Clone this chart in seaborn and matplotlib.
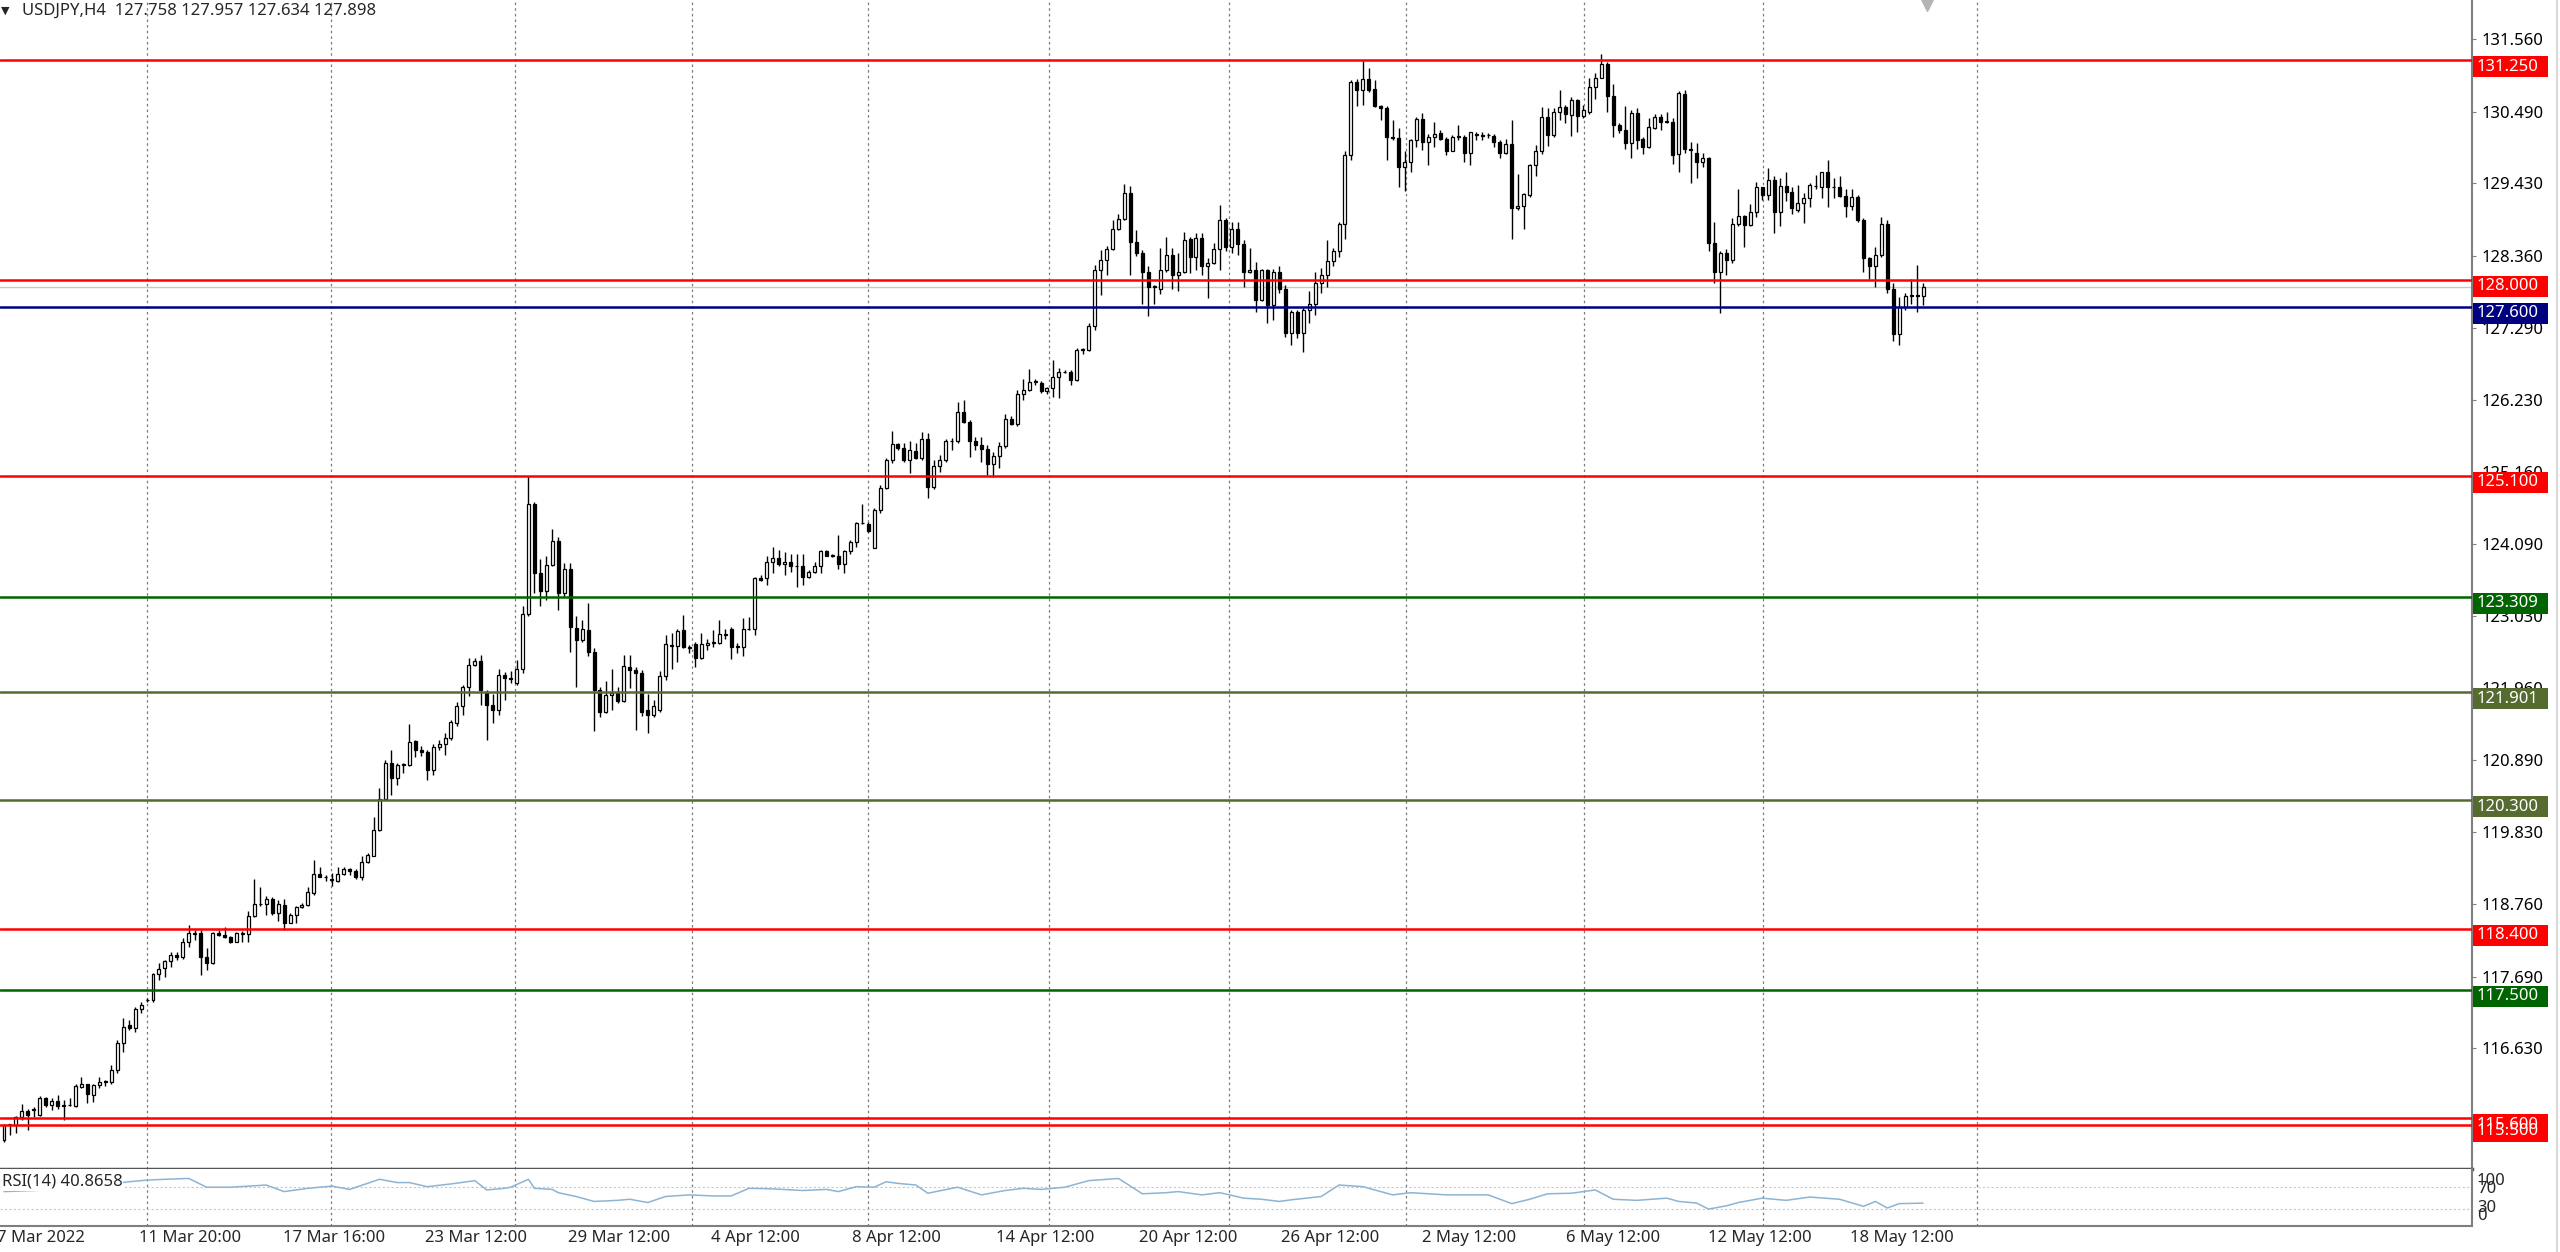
import matplotlib
matplotlib.use('Agg')
import matplotlib.pyplot as plt
import matplotlib.transforms as mtransforms
from matplotlib.patches import Rectangle
from matplotlib.lines import Line2D
import numpy as np
import pandas as pd
import seaborn as sns

sns.set_style('white')
plt.rcParams['font.family'] = ['Noto Sans', 'DejaVu Sans']
plt.rcParams['font.size'] = 12

# USDJPY H4 bars (open, high, low, close), first bar 7 Mar 2022
bars_mar = [
    (115.28, 115.51, 115.25, 115.50), (115.51, 115.52, 115.35, 115.52), (115.50, 115.63, 115.38, 115.61),
    (115.61, 115.81, 115.57, 115.71), (115.71, 115.73, 115.42, 115.65), (115.72, 115.77, 115.62, 115.73),
    (115.65, 115.93, 115.63, 115.90), (115.89, 115.91, 115.77, 115.79), (115.79, 115.89, 115.72, 115.86),
    (115.86, 115.94, 115.74, 115.78), (115.78, 115.87, 115.57, 115.80), (115.80, 115.89, 115.78, 115.79),
    (115.78, 116.11, 115.77, 116.07), (116.06, 116.21, 116.04, 116.11), (116.10, 116.11, 115.82, 115.96),
    (115.94, 116.11, 115.84, 116.09), (116.09, 116.21, 116.04, 116.14), (116.14, 116.16, 116.07, 116.15),
    (116.14, 116.39, 116.11, 116.31), (116.31, 116.76, 116.26, 116.71), (116.71, 117.08, 116.58, 116.95),
    (116.97, 117.05, 116.90, 116.93), (116.93, 117.25, 116.88, 117.21), (117.21, 117.32, 117.16, 117.27),
    (117.34, 117.37, 117.32, 117.35), (117.34, 117.75, 117.32, 117.73), (117.73, 117.89, 117.64, 117.80),
    (117.82, 117.94, 117.69, 117.92), (117.92, 118.06, 117.84, 118.01), (118.02, 118.06, 117.94, 117.99),
    (117.98, 118.26, 117.96, 118.21), (118.21, 118.46, 118.13, 118.34), (118.34, 118.38, 118.24, 118.33),
    (118.34, 118.38, 117.72, 117.99), (117.99, 118.11, 117.79, 117.89), (117.89, 118.36, 117.88, 118.34),
    (118.34, 118.38, 118.29, 118.31), (118.31, 118.43, 118.26, 118.28), (118.28, 118.29, 118.19, 118.21),
    (118.21, 118.36, 118.20, 118.34), (118.33, 118.37, 118.21, 118.34), (118.32, 118.66, 118.21, 118.59),
    (118.59, 119.13, 118.58, 118.77), (118.77, 119.02, 118.74, 118.76), (118.76, 118.88, 118.61, 118.84),
    (118.84, 118.87, 118.60, 118.64), (118.64, 118.83, 118.51, 118.77), (118.75, 118.84, 118.38, 118.49),
    (118.49, 118.63, 118.48, 118.61), (118.61, 118.74, 118.48, 118.72), (118.73, 118.78, 118.71, 118.75),
    (118.75, 119.02, 118.74, 118.94), (118.93, 119.42, 118.90, 119.21), (119.21, 119.32, 119.16, 119.17),
    (119.17, 119.20, 119.10, 119.16), (119.12, 119.22, 119.03, 119.13), (119.10, 119.32, 119.09, 119.21),
    (119.21, 119.31, 119.19, 119.28), (119.28, 119.30, 119.20, 119.26), (119.26, 119.28, 119.13, 119.17),
    (119.17, 119.48, 119.12, 119.39), (119.39, 119.52, 119.37, 119.49), (119.48, 120.06, 119.47, 119.86),
    (119.86, 120.48, 119.85, 120.32), (120.32, 120.90, 120.31, 120.85), (120.85, 121.05, 120.38, 120.63),
    (120.63, 120.85, 120.53, 120.82), (120.83, 120.85, 120.71, 120.83), (120.83, 121.43, 120.81, 121.16),
    (121.18, 121.19, 120.94, 121.05), (121.05, 121.10, 120.95, 121.02), (121.01, 121.05, 120.60, 120.75),
    (120.75, 121.14, 120.68, 121.09), (121.09, 121.19, 121.05, 121.13), (121.13, 121.30, 120.97, 121.23),
    (121.23, 121.49, 121.19, 121.46), (121.45, 121.76, 121.40, 121.69), (121.69, 122.01, 121.56, 121.98),
    (121.98, 122.41, 121.84, 122.31), (122.31, 122.40, 122.29, 122.36), (122.36, 122.45, 121.71, 121.93),
    (121.91, 121.93, 121.19, 121.71), (121.71, 121.88, 121.44, 121.64), (121.64, 122.24, 121.56, 122.15),
    (122.15, 122.20, 121.79, 122.11), (122.11, 122.22, 122.03, 122.10), (122.04, 122.38, 122.01, 122.24),
    (122.24, 123.17, 122.18, 123.05), (123.05, 125.10, 123.03, 124.69), (124.69, 124.72, 123.37, 123.66),
    (123.66, 123.87, 123.17, 123.40), (123.40, 123.91, 123.26, 123.78), (123.78, 124.31, 123.76, 124.14),
    (124.14, 124.20, 123.12, 123.37), (123.37, 123.81, 123.31, 123.73), (123.73, 123.81, 122.50, 122.87),
    (122.85, 123.03, 121.98, 122.67), (122.67, 122.97, 122.65, 122.84), (122.82, 123.22, 122.43, 122.49),
    (122.49, 122.55, 121.32, 121.93), (121.93, 121.98, 121.54, 121.61), (121.61, 122.06, 121.59, 121.86),
    (121.86, 122.25, 121.64, 121.89), (121.89, 121.98, 121.74, 121.77), (121.77, 122.45, 121.76, 122.29),
    (122.28, 122.45, 121.96, 122.23), (122.23, 122.28, 121.34, 122.19), (122.19, 122.23, 121.55, 121.61),
]
bars_apr = [
    (121.63, 121.88, 121.29, 121.56), (121.56, 121.79, 121.54, 121.69), (121.64, 122.21, 121.61, 122.14),
    (122.14, 122.75, 122.08, 122.61), (122.59, 122.77, 122.25, 122.60), (122.59, 122.83, 122.34, 122.81),
    (122.82, 123.04, 122.55, 122.57), (122.57, 122.60, 122.48, 122.55), (122.61, 122.65, 122.28, 122.41),
    (122.41, 122.77, 122.39, 122.61), (122.60, 122.68, 122.53, 122.63), (122.63, 122.82, 122.57, 122.65),
    (122.63, 122.97, 122.61, 122.76), (122.75, 122.83, 122.68, 122.76), (122.83, 122.86, 122.39, 122.57),
    (122.57, 122.63, 122.48, 122.58), (122.57, 123.00, 122.44, 122.83), (122.83, 123.02, 122.82, 122.84),
    (122.84, 123.61, 122.75, 123.59), (123.59, 123.63, 123.55, 123.56), (123.59, 123.91, 123.49, 123.83),
    (123.83, 124.05, 123.66, 123.88), (123.88, 124.01, 123.76, 123.80), (123.80, 123.98, 123.64, 123.82),
    (123.82, 123.94, 123.68, 123.76), (123.77, 123.94, 123.46, 123.77), (123.77, 123.94, 123.49, 123.61),
    (123.61, 123.71, 123.59, 123.68), (123.68, 123.83, 123.66, 123.76), (123.76, 124.01, 123.67, 123.99),
    (123.99, 124.00, 123.91, 123.92), (123.92, 123.95, 123.90, 123.92), (123.91, 124.23, 123.72, 123.80),
    (123.80, 124.01, 123.67, 123.99), (123.99, 124.15, 123.95, 124.12), (124.12, 124.42, 124.05, 124.40),
    (124.40, 124.68, 124.39, 124.40), (124.39, 124.42, 124.27, 124.29), (124.04, 124.62, 124.03, 124.60),
    (124.60, 124.97, 124.55, 124.92), (124.92, 125.36, 124.90, 125.33), (125.33, 125.77, 125.29, 125.57),
    (125.57, 125.59, 125.48, 125.52), (125.51, 125.59, 125.31, 125.34), (125.34, 125.61, 125.14, 125.48),
    (125.47, 125.58, 125.35, 125.36), (125.36, 125.75, 125.33, 125.64), (125.64, 125.73, 124.77, 124.94),
    (124.94, 125.34, 124.90, 125.24), (125.24, 125.41, 125.16, 125.33), (125.33, 125.64, 125.31, 125.61),
    (125.61, 125.66, 125.48, 125.62), (125.61, 126.20, 125.59, 126.04), (126.04, 126.22, 125.88, 125.90),
    (125.90, 125.93, 125.38, 125.61), (125.61, 125.67, 125.49, 125.55), (125.55, 125.68, 125.30, 125.50),
    (125.50, 125.56, 125.11, 125.28), (125.28, 125.46, 125.09, 125.39), (125.39, 125.60, 125.21, 125.54),
    (125.54, 126.02, 125.51, 125.94), (125.94, 125.99, 125.86, 125.87), (125.87, 126.37, 125.84, 126.31),
    (126.31, 126.54, 126.22, 126.37), (126.37, 126.68, 126.35, 126.49), (126.49, 126.53, 126.45, 126.50),
    (126.48, 126.51, 126.33, 126.35), (126.35, 126.42, 126.31, 126.40), (126.40, 126.82, 126.27, 126.56),
    (126.56, 126.69, 126.25, 126.64), (126.64, 126.67, 126.62, 126.64), (126.63, 126.66, 126.45, 126.52),
    (126.52, 126.99, 126.50, 126.96), (126.96, 126.99, 126.91, 126.97), (126.96, 127.36, 126.95, 127.32),
    (127.32, 128.22, 127.26, 128.15), (128.15, 128.44, 127.78, 128.29), (128.29, 128.50, 128.07, 128.45),
    (128.45, 128.89, 128.44, 128.75), (128.75, 128.97, 128.74, 128.90), (128.90, 129.42, 128.89, 129.29),
    (129.29, 129.39, 128.07, 128.56), (128.56, 128.74, 128.35, 128.40), (128.40, 128.44, 127.65, 128.11),
    (128.11, 128.20, 127.46, 127.89), (127.90, 127.92, 127.65, 127.90), (127.86, 128.47, 127.79, 128.15),
    (128.15, 128.64, 128.12, 128.37), (128.37, 128.47, 127.87, 128.07), (128.07, 128.39, 127.83, 128.12),
    (128.12, 128.71, 128.10, 128.59), (128.60, 128.64, 128.10, 128.34), (128.34, 128.69, 128.15, 128.62),
    (128.62, 128.70, 128.07, 128.20), (128.20, 128.32, 127.73, 128.25), (128.25, 128.54, 128.24, 128.45),
    (128.45, 129.11, 128.15, 128.89), (128.89, 128.91, 128.42, 128.49), (128.49, 128.85, 128.39, 128.75),
    (128.75, 128.86, 128.37, 128.53), (128.53, 128.59, 127.90, 128.12), (128.12, 128.47, 128.10, 128.14),
    (128.14, 128.27, 127.53, 127.70), (127.70, 128.16, 127.68, 128.15), (128.15, 128.16, 127.36, 127.63),
    (127.63, 128.16, 127.41, 128.11), (128.11, 128.20, 127.80, 127.87), (127.87, 127.92, 127.16, 127.21),
]
bars_may = [
    (127.21, 127.56, 127.04, 127.53), (127.53, 127.55, 127.14, 127.21), (127.21, 127.60, 126.94, 127.55),
    (127.55, 127.83, 127.36, 127.65), (127.65, 128.12, 127.48, 127.96), (127.96, 128.17, 127.80, 128.07),
    (128.07, 128.59, 127.90, 128.28), (128.28, 128.47, 128.20, 128.43), (128.43, 128.85, 128.34, 128.83),
    (128.83, 129.90, 128.61, 129.85), (129.85, 130.96, 129.78, 130.93), (130.93, 130.97, 130.57, 130.81),
    (130.81, 131.24, 130.59, 130.97), (130.97, 131.13, 130.78, 130.81), (130.83, 130.96, 130.56, 130.57),
    (130.57, 130.58, 130.37, 130.54), (130.54, 130.57, 129.77, 130.11), (130.11, 130.37, 130.07, 130.10),
    (130.10, 130.24, 129.38, 129.67), (129.67, 129.91, 129.32, 129.75), (129.75, 130.09, 129.59, 130.07),
    (130.07, 130.41, 129.96, 130.38), (130.38, 130.47, 129.92, 130.04), (130.04, 130.16, 129.70, 130.12),
    (130.12, 130.34, 129.96, 130.16), (130.17, 130.22, 130.07, 130.09), (130.09, 130.12, 129.85, 129.91),
    (129.91, 130.14, 129.90, 130.12), (130.12, 130.29, 130.07, 130.13), (130.12, 130.14, 129.75, 129.88),
    (129.88, 130.19, 129.70, 130.18), (130.15, 130.19, 130.07, 130.16), (130.14, 130.18, 130.07, 130.13),
    (130.14, 130.17, 130.10, 130.15), (130.13, 130.16, 129.97, 130.04), (130.04, 130.07, 129.80, 129.87),
    (129.87, 130.09, 129.86, 130.01), (130.01, 130.37, 128.61, 129.06), (129.06, 129.57, 129.03, 129.09),
    (129.09, 129.29, 128.75, 129.27), (129.26, 129.72, 129.23, 129.70), (129.70, 130.00, 129.53, 129.90),
    (129.90, 130.55, 129.86, 130.41), (130.41, 130.54, 129.98, 130.14), (130.14, 130.54, 130.12, 130.49),
    (130.49, 130.81, 130.36, 130.56), (130.55, 130.59, 130.32, 130.45), (130.44, 130.71, 130.13, 130.66),
    (130.66, 130.67, 130.19, 130.42), (130.42, 130.59, 130.40, 130.52), (130.49, 130.98, 130.46, 130.85),
    (130.85, 131.06, 130.67, 130.99), (130.99, 131.34, 130.98, 131.20), (131.20, 131.23, 130.49, 130.72),
    (130.72, 130.89, 130.11, 130.29), (130.29, 130.32, 130.17, 130.22), (130.21, 130.57, 129.93, 130.03),
    (130.03, 130.51, 129.80, 130.47), (130.47, 130.54, 129.93, 130.07), (130.08, 130.12, 129.86, 129.97),
    (129.97, 130.40, 129.95, 130.26), (130.24, 130.46, 130.23, 130.41), (130.41, 130.46, 130.22, 130.34),
    (130.34, 130.49, 130.32, 130.35), (130.34, 130.39, 129.72, 129.85), (129.86, 130.79, 129.59, 130.76),
    (130.75, 130.81, 129.87, 129.93), (129.93, 130.04, 129.44, 129.92), (129.87, 130.02, 129.50, 129.75),
    (129.75, 129.87, 129.67, 129.80), (129.80, 129.82, 128.42, 128.54), (128.54, 128.85, 127.96, 128.11),
    (128.11, 128.43, 127.51, 128.40), (128.40, 128.45, 128.07, 128.30), (128.29, 128.92, 128.25, 128.83),
    (128.83, 129.35, 128.79, 128.94), (128.94, 128.96, 128.49, 128.81), (128.81, 129.12, 128.79, 129.01),
    (129.01, 129.45, 128.93, 129.37), (129.37, 129.38, 129.18, 129.25), (129.25, 129.66, 129.18, 129.48),
    (129.48, 129.53, 128.70, 129.01), (129.01, 129.50, 128.79, 129.39), (129.39, 129.60, 129.16, 129.30),
    (129.30, 129.38, 128.98, 129.06), (129.04, 129.40, 129.01, 129.14), (129.13, 129.28, 128.84, 129.21),
    (129.21, 129.43, 129.08, 129.40), (129.39, 129.55, 129.35, 129.39), (129.38, 129.60, 129.21, 129.59),
    (129.59, 129.77, 129.08, 129.37), (129.37, 129.50, 129.21, 129.37), (129.37, 129.54, 129.23, 129.24),
    (129.24, 129.35, 128.93, 129.09), (129.09, 129.35, 129.03, 129.22), (129.22, 129.26, 128.86, 128.89),
    (128.89, 128.91, 128.11, 128.33), (128.33, 128.34, 128.02, 128.21), (128.21, 128.49, 127.90, 128.37),
    (128.37, 128.93, 128.34, 128.83), (128.83, 128.88, 127.80, 127.86), (127.86, 127.95, 127.09, 127.20),
    (127.20, 127.75, 127.04, 127.60), (127.60, 127.80, 127.55, 127.76), (127.76, 128.02, 127.65, 127.78),
    (127.77, 128.22, 127.53, 127.76), (127.758, 127.957, 127.634, 127.898),
]

# RSI(14) (bar number, value)
rsi_bar = [0, 10, 21, 24, 27, 31, 34, 38, 41, 44, 47, 51, 55, 58, 63, 66, 68, 71, 75, 79,
           81, 84, 85, 88, 89, 92, 93, 96, 99, 103, 105, 108, 111, 115, 119, 122, 125, 129, 134, 138,
           140, 143, 146, 148, 150, 153, 155, 160, 164, 168, 171, 174, 178, 182, 187, 191, 195, 197, 201, 204,
           208, 211, 214, 216, 221, 224, 228, 233, 236, 242, 249, 253, 256, 259, 263, 267, 270, 274, 279, 281,
           284, 286, 289, 291, 295, 299, 303, 308, 312, 314, 316, 318, 322]
rsi_val = [62, 66, 80, 83, 84.5, 86, 70, 70, 72, 74, 62, 68, 72, 66, 84.5, 78.5, 78.5, 71, 76, 82,
           65, 68, 70, 84.5, 68, 66, 60, 53, 44, 46, 48, 42, 53, 56, 54, 54, 68, 67, 64, 66,
           62, 71, 70, 80, 77, 74, 59, 70, 56, 64, 68, 66, 70, 82, 86, 58, 60, 62, 56, 60,
           50, 48, 44, 47, 53, 74, 71, 56, 60, 56, 56, 40, 48, 58, 59, 65, 48, 46, 50, 44,
           41, 30, 36, 42, 50, 46, 52, 48, 35, 44, 32, 40, 40.87]

price_ticks = [131.56, 130.49, 129.43, 128.36, 127.29, 126.23, 125.16, 124.09,
               123.03, 121.96, 120.89, 119.83, 118.76, 117.69, 116.63]

level_price = [131.25, 128.0, 127.6, 125.1, 123.309, 121.901, 120.3, 118.4, 117.5, 115.6, 115.5]
level_color = ['#FF0000', '#FF0000', '#000080', '#FF0000', '#006400', '#556B2F',
               '#556B2F', '#FF0000', '#006400', '#FF0000', '#FF0000']
bid = 127.898

date_labels = ['7 Mar 2022', '11 Mar 20:00', '17 Mar 16:00', '23 Mar 12:00', '29 Mar 12:00',
               '4 Apr 12:00', '8 Apr 12:00', '14 Apr 12:00', '20 Apr 12:00', '26 Apr 12:00',
               '2 May 12:00', '6 May 12:00', '12 May 12:00', '18 May 12:00']
date_pos = [-1.1, 22.7, 46.8, 70.6, 94.6, 118.6, 142.3, 166.4, 190.4, 214.3, 238.0, 262.1, 285.9, 309.8]
grid_pos = [24, 54.8, 85.8, 115.5, 145, 175.4, 205.6, 235.3, 265.1, 295.1, 331]

df = pd.DataFrame(bars_mar + bars_apr + bars_may, columns=['open', 'high', 'low', 'close'])
df['bar'] = np.arange(len(df))
df['bull'] = df['close'] >= df['open']

W, H = 2560, 1252
fig = plt.figure(figsize=(W / 100, H / 100), dpi=100)
ax = fig.add_axes([0, 1 - 1169 / H, 2472 / W, 1169 / H])
ax2 = fig.add_axes([0, 1 - 1226 / H, 2472 / W, 57 / H], sharex=ax)

# dotted vertical grid through both windows
for g in grid_pos:
    ax.axvline(g, color='#7A7A7A', lw=0.9, ls=(0, (2, 2.5)), zorder=1)
    ax2.axvline(g, color='#7A7A7A', lw=0.9, ls=(0, (2, 2.5)), zorder=1)

# candles
ax.vlines(df['bar'], df['low'], df['high'], color='black', lw=1.0, zorder=3)
body_lo = df[['open', 'close']].min(axis=1)
body_h = (df['close'] - df['open']).abs().clip(lower=0.003)
ax.bar(df['bar'], body_h, bottom=body_lo, width=0.5,
       color=['white' if b else 'black' for b in df['bull']],
       edgecolor='black', linewidth=0.9, zorder=4)

# horizontal levels with price boxes
ax.axhline(bid, color='#C8C8C8', lw=1, zorder=2)
blend = mtransforms.blended_transform_factory(ax.transAxes, ax.transData)
for lv, col in zip(level_price, level_color):
    ax.axhline(lv, color=col, lw=1.8, zorder=5)
for lv, col in zip(level_price, level_color):
    ax.add_patch(Rectangle((1.0004, lv - 0.2515), 0.0304, 0.3107, transform=blend,
                           facecolor=col, edgecolor='none', clip_on=False, zorder=10))
    ax.text(1.0020, lv - 0.096, f'{lv:.3f}', transform=blend, color='white', fontsize=12,
            ha='left', va='center', clip_on=False, zorder=11)

ax.set_xlim(-0.67, 414.1)
ax.set_ylim(114.847, 132.14)
ax.yaxis.tick_right()
ax.set_yticks(price_ticks)
ax.set_yticklabels([f'{t:.3f}' for t in price_ticks])
ax.tick_params(axis='y', length=3, width=0.8, color='#7F7F7F', pad=4, labelsize=12, labelcolor='black')
ax.tick_params(axis='x', bottom=False, labelbottom=False)
for s in ['top', 'left']:
    ax.spines[s].set_visible(False)
ax.spines['right'].set_color('#7F7F7F')
ax.spines['right'].set_linewidth(1.5)
ax.spines['bottom'].set_color('#555555')
ax.spines['bottom'].set_linewidth(2.5)

# RSI window
sns.lineplot(x=rsi_bar, y=rsi_val, ax=ax2, color='#8DB4D2', lw=1.1)
for lv in [70, 30]:
    ax2.axhline(lv, color='#C8C8C8', lw=0.8, ls=(0, (2, 2)), zorder=1)
ax2.set_ylim(-0.9, 103.3)
ax2.set_xlim(-0.67, 414.1)
ax2.set_xlabel('')
ax2.set_ylabel('')
ax2.set_yticks([])
ax2.tick_params(axis='x', bottom=False, labelbottom=False)
for s in ['top', 'left']:
    ax2.spines[s].set_visible(False)
for s in ['right', 'bottom']:
    ax2.spines[s].set_color('#7F7F7F')
    ax2.spines[s].set_linewidth(1.5)
fig.text(2 / W, 1 - 1182 / H, 'RSI(14) 40.8658', fontsize=12, va='center', ha='left',
         bbox=dict(facecolor='white', edgecolor='none', pad=0.5))
for lbl, ypx in [('100', 1181), ('70', 1189), ('30', 1208), ('0', 1216)]:
    fig.text(2477 / W, 1 - ypx / H, lbl, fontsize=12, va='center', ha='left')

# date labels under the RSI window
xblend = mtransforms.blended_transform_factory(ax2.transData, fig.transFigure)
for p, s in zip(date_pos, date_labels):
    ax2.text(p, 1 - 1238 / H, s, transform=xblend, ha='left', va='center', fontsize=12, clip_on=False)

# header
fig.text(1 / W, 1 - 11 / H, '\u25bc', fontsize=8, va='center', ha='left')
fig.text(22 / W, 1 - 11 / H, 'USDJPY,H4  127.758 127.957 127.634 127.898', fontsize=12, va='center', ha='left')

# chart shift marker and window edge
fig.add_artist(Line2D([1927 / W], [1 - 4 / H], marker='v', markersize=10, color='#B4B4B4', transform=fig.transFigure))
fig.add_artist(Line2D([2557 / W, 2557 / W], [0, 1], color='#D8D8D8', lw=1.5, transform=fig.transFigure))

fig.savefig('out.png', dpi=100)
